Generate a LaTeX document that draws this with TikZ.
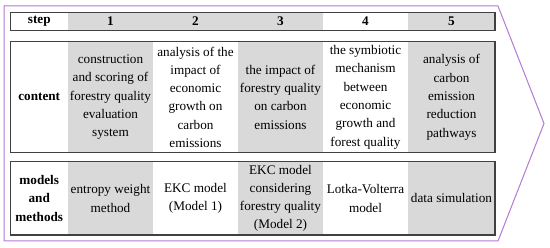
\documentclass[tikz,border=0pt]{standalone}
\usepackage{fontspec}
\setmainfont{Liberation Serif}
\newfontfamily\tableserif{Liberation Serif}
\usetikzlibrary{positioning}
\definecolor{cellgray}{RGB}{217,217,217}
\definecolor{framepurple}{RGB}{178,122,214}
\newcommand{\cellfont}{\tableserif\fontsize{13.2}{18.3}\selectfont}

\begin{document}
\begin{tikzpicture}[
        x=1pt, y=-1pt,
        cell/.style={rectangle, inner sep=0pt, outer sep=0pt,
                     minimum width=85pt, align=center, font=\cellfont},
        shaded/.style={cell, fill=cellgray},
        head/.style={cell, minimum width=57.5pt, font=\cellfont\bfseries},
        num/.style={font=\cellfont\bfseries},
        last/.style={minimum width=87pt},
        steprow/.style={minimum height=18.4pt},
        controw/.style={minimum height=111pt},
        modrow/.style={minimum height=73.3pt},
        frame/.style={draw=black!75, line width=1.1pt},
        outline/.style={draw=framepurple, line width=1pt},
    ]
    \useasboundingbox (0,0) rectangle (550,248);

    % outer arrow shape
    \draw[outline] (4,6) -- (498,6) -- (544,123.5) -- (498,241) -- (4,241) -- cycle;

    % step row
    \node[head, steprow, anchor=north west] (stepL) at (10.5,12.3) {step};
    \node[shaded, num, steprow, right=0pt of stepL] (s1) {1};
    \node[shaded, num, steprow, right=0pt of s1] (s2) {2};
    \node[shaded, num, steprow, right=0pt of s2] (s3) {3};
    \node[cell, num, steprow, right=0pt of s3] (s4) {4};
    \node[shaded, num, steprow, last, right=0pt of s4] (s5) {5};
    \draw[frame] (stepL.north west) rectangle (s5.south east);

    % content row
    \node[head, controw, below=11pt of stepL] (contL) {content};
    \node[shaded, controw, right=0pt of contL] (c1)
        {construction\\and scoring of\\forestry quality\\evaluation\\system};
    \node[cell, controw, right=0pt of c1] (c2)
        {analysis of the\\impact of\\economic\\growth on\\carbon\\emissions};
    \node[shaded, controw, right=0pt of c2] (c3)
        {the impact of\\forestry quality\\on carbon\\emissions};
    \node[cell, controw, right=0pt of c3] (c4)
        {the symbiotic\\mechanism\\between\\economic\\growth and\\forest quality};
    \node[shaded, controw, last, right=0pt of c4] (c5)
        {analysis of\\carbon\\emission\\reduction\\pathways};
    \draw[frame] (contL.north west) rectangle (c5.south east);

    % models and methods row
    \node[head, modrow, below=9pt of contL] (modL) {models\\and\\methods};
    \node[shaded, modrow, right=0pt of modL] (m1) {entropy weight\\method};
    \node[cell, modrow, right=0pt of m1] (m2) {EKC model\\(Model 1)};
    \node[shaded, modrow, right=0pt of m2] (m3)
        {EKC model\\considering\\forestry quality\\(Model 2)};
    \node[cell, modrow, right=0pt of m3] (m4) {Lotka-Volterra\\model};
    \node[shaded, modrow, last, right=0pt of m4] (m5) {data simulation};
    \draw[frame] (modL.north west) rectangle (m5.south east);

\end{tikzpicture}
\end{document}
